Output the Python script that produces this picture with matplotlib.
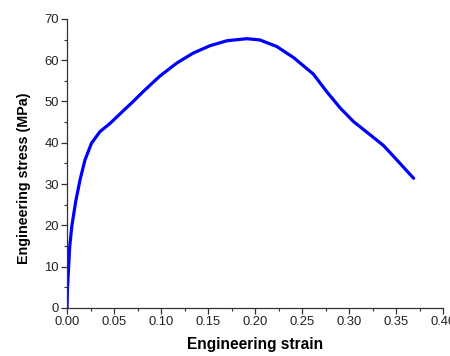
import matplotlib
matplotlib.use("Agg")
import matplotlib.pyplot as plt
from matplotlib.ticker import MultipleLocator

plt.rcParams['font.family'] = ['Liberation Sans', 'DejaVu Sans']

# values
strain = [0, 0.0004, 0.0028, 0.005, 0.0092, 0.0138, 0.019, 0.026, 0.035,
          0.0458, 0.060, 0.069, 0.081, 0.0918, 0.099, 0.1167, 0.134, 0.152,
          0.170, 0.191, 0.205, 0.223, 0.241, 0.262, 0.276, 0.2905, 0.3047,
          0.3224, 0.3366, 0.3508, 0.3685]
stress = [0, 4.4, 14.8, 19.7, 25.8, 31.0, 35.8, 39.9, 42.7,
          44.7, 47.8, 49.7, 52.4, 54.7, 56.2, 59.3, 61.7, 63.5,
          64.7, 65.2, 64.9, 63.3, 60.6, 56.6, 52.4, 48.4, 45.1,
          41.9, 39.3, 35.8, 31.4]

fig = plt.figure(figsize=(4.5, 3.56), dpi=100)
ax = fig.add_axes([0.149, 0.135, 0.836, 0.812])

ax.plot(strain, stress, color='#0000ff', lw=2.3,
        solid_capstyle='round', solid_joinstyle='round')

ax.set_xlim(0, 0.40)
ax.set_ylim(0, 70)
ax.xaxis.set_major_locator(MultipleLocator(0.05))
ax.xaxis.set_minor_locator(MultipleLocator(0.025))
ax.yaxis.set_major_locator(MultipleLocator(10))
ax.yaxis.set_minor_locator(MultipleLocator(5))
ax.xaxis.set_major_formatter(lambda v, p: f"{v:.2f}")

ax.spines['top'].set_visible(False)
ax.spines['right'].set_visible(False)
for s in ['left', 'bottom']:
    ax.spines[s].set_color('#333333')
    ax.spines[s].set_linewidth(0.9)
ax.tick_params(which='major', length=4, width=0.9, color='#333333',
               labelsize=9.4, labelcolor='#222222', pad=2)
ax.tick_params(which='minor', length=2.5, width=0.8, color='#333333')

ax.set_xlabel('Engineering strain', fontsize=11.2, fontweight='bold', labelpad=6)
ax.set_ylabel('Engineering stress (MPa)', fontsize=10.3, fontweight='bold')
ax.yaxis.set_label_coords(-0.096, 0.45)

fig.savefig('out.png', dpi=100)
